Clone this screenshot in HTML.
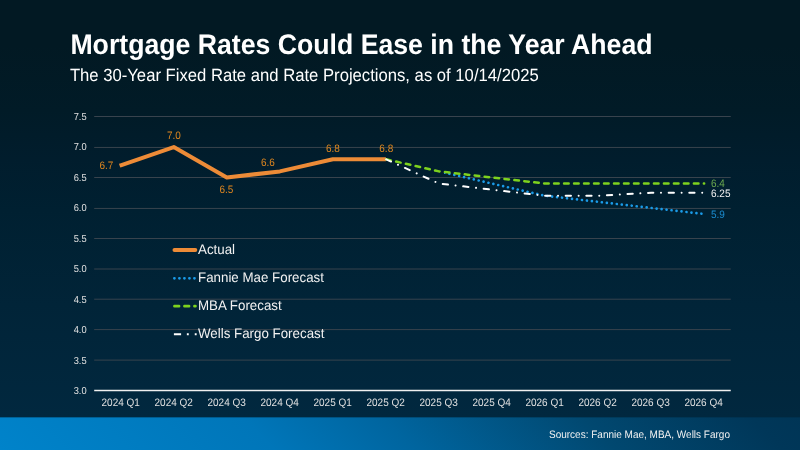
<!DOCTYPE html>
<html><head><meta charset="utf-8"><title>Mortgage Rates Could Ease in the Year Ahead</title>
<style>
html,body{margin:0;padding:0;}
body{width:800px;height:450px;overflow:hidden;position:relative;font-family:"Liberation Sans",sans-serif;
background:linear-gradient(180deg,#021923 0px,#021923 45px,#011b27 110px,#011d2d 160px,#002031 210px,#012438 305px,#01283f 417px);}
.footer{position:absolute;left:0;top:417px;width:800px;height:33px;background:linear-gradient(45deg,#0083ca 0%,#0076b9 33%,#00659f 50%,#014870 74%,#003759 94%,#003556 100%);}
.fedge{position:absolute;left:0;top:417px;width:800px;height:1px;background:rgba(1,40,63,0.35);}
svg{position:absolute;left:0;top:0;}
.txt{will-change:transform;position:absolute;left:0;top:0;width:800px;height:450px;}
.t{position:absolute;white-space:nowrap;transform-origin:0 0;text-rendering:geometricPrecision;}
</style></head><body>
<div class="footer"></div><div class="fedge"></div>
<svg width="800" height="450" viewBox="0 0 800 450">
<g stroke="#38434d" stroke-width="1"><line x1="94.2" x2="730.75" y1="360.1" y2="360.1"/><line x1="94.2" x2="730.75" y1="329.6" y2="329.6"/><line x1="94.2" x2="730.75" y1="299.2" y2="299.2"/><line x1="94.2" x2="730.75" y1="269.0" y2="269.0"/><line x1="94.2" x2="730.75" y1="238.5" y2="238.5"/><line x1="94.2" x2="730.75" y1="208.45" y2="208.45"/><line x1="94.2" x2="730.75" y1="177.5" y2="177.5"/><line x1="94.2" x2="730.75" y1="147.45" y2="147.45"/><line x1="94.2" x2="730.75" y1="116.5" y2="116.5"/></g>
<line x1="94.2" x2="730.75" y1="390.5" y2="390.5" stroke="#f0f0f0" stroke-width="1.5"/>
<polyline points="119.59,165.70 120.72,165.31 173.76,147.04 226.80,177.49 279.84,171.40 332.88,159.22 385.92,159.22" fill="none" stroke="#ed8b37" stroke-width="4.05" stroke-linecap="butt" stroke-linejoin="round"/>
<clipPath id="bc"><rect x="444" y="100" width="300" height="200"/></clipPath>
<polyline clip-path="url(#bc)" points="385.92,159.22 438.96,171.40 492.00,183.57 545.04,195.75 598.08,201.84 651.12,207.93 704.16,214.02" fill="none" stroke="#1a9be8" stroke-width="2.65" stroke-linecap="round" stroke-dasharray="0.01 5"/>
<polyline points="385.92,159.22 438.96,171.40 492.00,177.49 545.04,183.57 598.08,183.57 651.12,183.57 704.16,183.57" fill="none" stroke="#7dd21e" stroke-width="2.5" stroke-linecap="round" stroke-linejoin="round" stroke-dasharray="4.6 5.385" stroke-dashoffset="-0.5"/>
<polyline points="385.92,159.22 438.96,183.57 492.00,189.66 545.04,195.75 598.08,195.75 651.12,192.71 704.16,192.71" fill="none" stroke="#ffffff" stroke-width="2" stroke-linecap="round" stroke-linejoin="round" stroke-dasharray="5.3 7.65 0.01 7.65" stroke-dashoffset="-0.3"/>
<!-- legend -->
<line x1="174.45" x2="195.35" y1="250.05" y2="250.05" stroke="#ed8b37" stroke-width="3.9" stroke-linecap="round"/>
<line x1="174.4" x2="196" y1="278.3" y2="278.3" stroke="#1a9be8" stroke-width="2.8" stroke-linecap="round" stroke-dasharray="0.01 5.0"/>
<line x1="174.45" x2="195.45" y1="306.2" y2="306.2" stroke="#7dd21e" stroke-width="2.7" stroke-linecap="round" stroke-dasharray="4.6 5.4"/>
<line x1="173.9" x2="196.65" y1="334.2" y2="334.2" stroke="#ffffff" stroke-width="2" stroke-dasharray="7.2 5.75 1.9 6 1.9 20"/>
</svg>
<div class="txt">
<div class="t" style="top:28px;font-size:26.67px;line-height:32px;color:#fff;transform:scaleY(1.06);font-weight:bold;left:70.40px;">Mortgage Rates Could Ease in the Year Ahead</div>
<div class="t" style="top:65px;font-size:16.67px;line-height:20px;color:#fff;transform:scaleY(1.06);left:69.90px;">The 30-Year Fixed Rate and Rate Projections, as of 10/14/2025</div>
<div class="t" style="top:385px;font-size:9.33px;line-height:11px;color:#e0e0e0;transform:scaleY(1.08);right:713.40px;">3.0</div>
<div class="t" style="top:355px;font-size:9.33px;line-height:11px;color:#e0e0e0;transform:scaleY(1.08);right:713.40px;">3.5</div>
<div class="t" style="top:324px;font-size:9.33px;line-height:11px;color:#e0e0e0;transform:scaleY(1.08);right:713.40px;">4.0</div>
<div class="t" style="top:294px;font-size:9.33px;line-height:11px;color:#e0e0e0;transform:scaleY(1.08);right:713.40px;">4.5</div>
<div class="t" style="top:263px;font-size:9.33px;line-height:11px;color:#e0e0e0;transform:scaleY(1.08);right:713.40px;">5.0</div>
<div class="t" style="top:233px;font-size:9.33px;line-height:11px;color:#e0e0e0;transform:scaleY(1.08);right:713.40px;">5.5</div>
<div class="t" style="top:202px;font-size:9.33px;line-height:11px;color:#e0e0e0;transform:scaleY(1.08);right:713.40px;">6.0</div>
<div class="t" style="top:172px;font-size:9.33px;line-height:11px;color:#e0e0e0;transform:scaleY(1.08);right:713.40px;">6.5</div>
<div class="t" style="top:141px;font-size:9.33px;line-height:11px;color:#e0e0e0;transform:scaleY(1.08);right:713.40px;">7.0</div>
<div class="t" style="top:111px;font-size:9.33px;line-height:11px;color:#e0e0e0;transform:scaleY(1.08);right:713.40px;">7.5</div>
<div class="t" style="top:397px;font-size:10px;line-height:12px;color:#e0e0e0;transform:scaleY(1.08);left:70.72px;width:100px;text-align:center;">2024 Q1</div>
<div class="t" style="top:397px;font-size:10px;line-height:12px;color:#e0e0e0;transform:scaleY(1.08);left:123.71px;width:100px;text-align:center;">2024 Q2</div>
<div class="t" style="top:397px;font-size:10px;line-height:12px;color:#e0e0e0;transform:scaleY(1.08);left:176.70px;width:100px;text-align:center;">2024 Q3</div>
<div class="t" style="top:397px;font-size:10px;line-height:12px;color:#e0e0e0;transform:scaleY(1.08);left:229.69px;width:100px;text-align:center;">2024 Q4</div>
<div class="t" style="top:397px;font-size:10px;line-height:12px;color:#e0e0e0;transform:scaleY(1.08);left:282.68px;width:100px;text-align:center;">2025 Q1</div>
<div class="t" style="top:397px;font-size:10px;line-height:12px;color:#e0e0e0;transform:scaleY(1.08);left:335.67px;width:100px;text-align:center;">2025 Q2</div>
<div class="t" style="top:397px;font-size:10px;line-height:12px;color:#e0e0e0;transform:scaleY(1.08);left:388.66px;width:100px;text-align:center;">2025 Q3</div>
<div class="t" style="top:397px;font-size:10px;line-height:12px;color:#e0e0e0;transform:scaleY(1.08);left:441.65px;width:100px;text-align:center;">2025 Q4</div>
<div class="t" style="top:397px;font-size:10px;line-height:12px;color:#e0e0e0;transform:scaleY(1.08);left:494.64px;width:100px;text-align:center;">2026 Q1</div>
<div class="t" style="top:397px;font-size:10px;line-height:12px;color:#e0e0e0;transform:scaleY(1.08);left:547.63px;width:100px;text-align:center;">2026 Q2</div>
<div class="t" style="top:397px;font-size:10px;line-height:12px;color:#e0e0e0;transform:scaleY(1.08);left:600.62px;width:100px;text-align:center;">2026 Q3</div>
<div class="t" style="top:397px;font-size:10px;line-height:12px;color:#e0e0e0;transform:scaleY(1.08);left:653.61px;width:100px;text-align:center;">2026 Q4</div>
<div class="t" style="top:160px;font-size:10px;line-height:12px;color:#de861f;transform:scaleY(1.08);left:99.50px;">6.7</div>
<div class="t" style="top:130px;font-size:10px;line-height:12px;color:#de861f;transform:scaleY(1.08);left:167.00px;">7.0</div>
<div class="t" style="top:184px;font-size:10px;line-height:12px;color:#de861f;transform:scaleY(1.08);left:219.50px;">6.5</div>
<div class="t" style="top:157px;font-size:10px;line-height:12px;color:#de861f;transform:scaleY(1.08);left:261.00px;">6.6</div>
<div class="t" style="top:143px;font-size:10px;line-height:12px;color:#de861f;transform:scaleY(1.08);left:326.00px;">6.8</div>
<div class="t" style="top:143px;font-size:10px;line-height:12px;color:#de861f;transform:scaleY(1.08);left:379.30px;">6.8</div>
<div class="t" style="top:178px;font-size:10px;line-height:12px;color:#6aa84f;transform:scaleY(1.08);left:711.00px;">6.4</div>
<div class="t" style="top:188px;font-size:10px;line-height:12px;color:#f2f2f2;transform:scaleY(1.08);left:711.00px;">6.25</div>
<div class="t" style="top:209px;font-size:10px;line-height:12px;color:#1a8cd0;transform:scaleY(1.08);left:711.00px;">5.9</div>
<div class="t" style="top:242px;font-size:13.33px;line-height:16px;color:#f2f2f2;transform:scaleY(1.04);left:198.00px;">Actual</div>
<div class="t" style="top:270px;font-size:13.33px;line-height:16px;color:#f2f2f2;transform:scaleY(1.04);left:198.00px;">Fannie Mae Forecast</div>
<div class="t" style="top:298px;font-size:13.33px;line-height:16px;color:#f2f2f2;transform:scaleY(1.04);left:198.00px;">MBA Forecast</div>
<div class="t" style="top:326px;font-size:13.33px;line-height:16px;color:#f2f2f2;transform:scaleY(1.04);left:198.00px;">Wells Fargo Forecast</div>
<div class="t" style="top:429px;font-size:10px;line-height:12px;color:#f2f2f2;transform:scaleY(1.08);right:70.00px;">Sources: Fannie Mae, MBA, Wells Fargo</div>
</div>
</body></html>
